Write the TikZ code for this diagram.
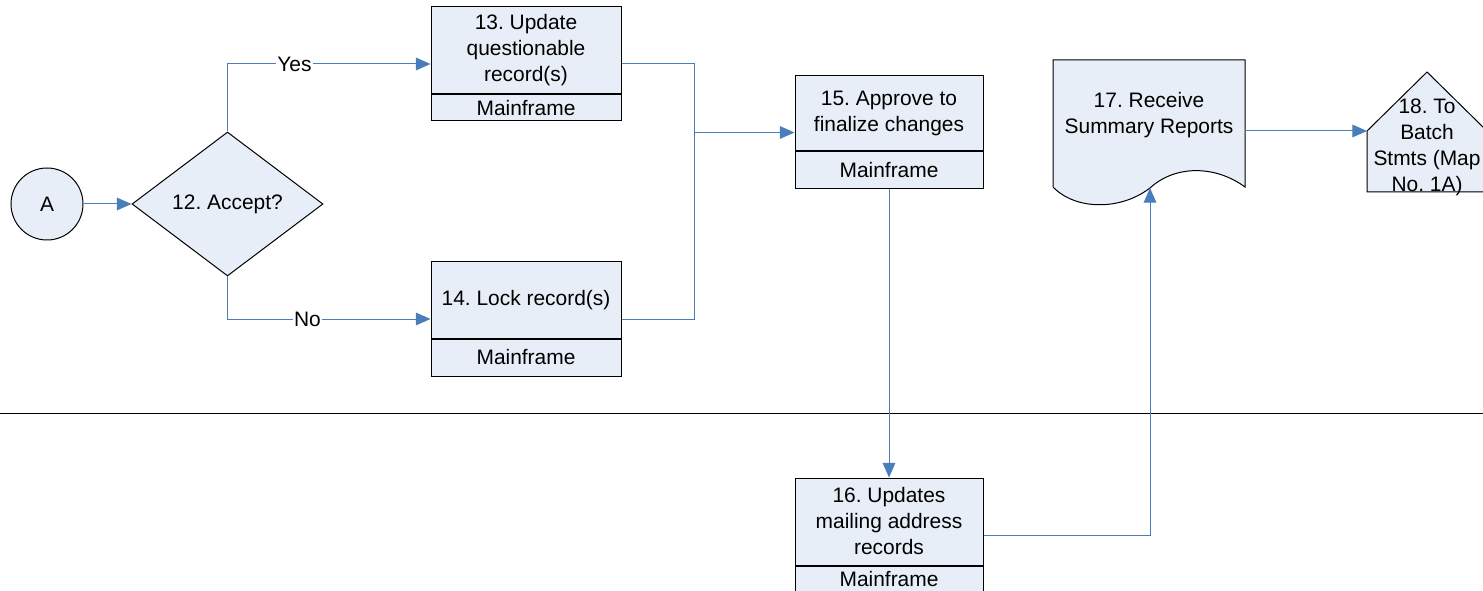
\documentclass[tikz,border=0pt]{standalone}
\usepackage{fontspec}
\setmainfont{Liberation Sans}
\usetikzlibrary{shapes.geometric,arrows.meta,calc}
\definecolor{boxfill}{RGB}{232,238,247}
\definecolor{flowblue}{RGB}{74,126,187}
\frenchspacing
\tikzset{
  shapeline/.style={draw=black,fill=boxfill,line width=0.75pt},
  proc/.style={shapeline,inner sep=0pt,align=center,minimum width=142.5pt},
  flow/.style={draw=flowblue,line width=0.75pt},
  arr/.style={flow,-{Triangle[length=11pt,width=9.5pt]}},
  lbl/.style={fill=white,inner sep=1pt},
}
\begin{document}
\begin{tikzpicture}[x=0.75pt,y=-0.75pt,font=\fontsize{15.7}{19.5}\selectfont]
\useasboundingbox (0,0) rectangle (1483,591);
\clip (0,0) rectangle (1483,591);
% connector and decision
\node[shapeline,circle,minimum size=54pt,inner sep=0pt] (conA) at (47,204) {A};
\node[shapeline,diamond,minimum width=143.25pt,minimum height=108pt,inner sep=0pt] (dec12) at (227.5,204) {12. Accept?};
% process boxes
\node[proc,minimum height=65.25pt] (b13) at (526,50.5) {13. Update\\questionable\\record(s)};
\node[proc,minimum height=19.5pt,anchor=north] (b13m) at (b13.south) {Mainframe};
\node[proc,minimum height=57pt] (b14) at (526,300) {14. Lock record(s)};
\node[proc,minimum height=27.75pt,anchor=north] (b14m) at (b14.south) {Mainframe};
\node[proc,minimum width=141pt,minimum height=56.25pt] (b15) at (889,113.5) {15. Approve to\\finalize changes};
\node[proc,minimum width=141pt,minimum height=27.75pt,anchor=north] (b15m) at (b15.south) {Mainframe};
\node[proc,minimum width=141pt,minimum height=65.25pt] (b16) at (889,521.5) {16. Updates\\mailing address\\records};
\node[proc,minimum width=141pt,minimum height=19.5pt,anchor=north] (b16m) at (b16.south) {Mainframe};
% document
\filldraw[shapeline] (1053,60) -- (1245,60) -- (1245,187)
  .. controls (1215,165) and (1175,165) .. (1150,188)
  .. controls (1120,211) and (1075,210) .. (1053,187) -- cycle;
\node[align=center,inner sep=0pt] (doc17) at (1149,115.5) {17. Receive\\Summary Reports};
\coordinate (doc17in) at (1150,188);
\coordinate (doc17out) at (1245,131);
% off-page connector
\filldraw[shapeline] (1367,131) -- (1427,72) -- (1487,131) -- (1487,192) -- (1367,192) -- cycle;
\node[align=center,inner sep=0pt] (op18) at (1427,147) {18. To\\Batch\\Stmts (Map\\No. 1A)};
\coordinate (op18in) at (1367,131);
% lane line
\draw[line width=0.75pt] (0,413) -- (1483,413);
% connection points
\coordinate (b13w) at ($(b13.north west)!.5!(b13m.south west)$);
\coordinate (b13e) at ($(b13.north east)!.5!(b13m.south east)$);
\coordinate (b14w) at ($(b14.north west)!.5!(b14m.south west)$);
\coordinate (b14e) at ($(b14.north east)!.5!(b14m.south east)$);
\coordinate (b15w) at ($(b15.north west)!.5!(b15m.south west)$);
\coordinate (b16e) at ($(b16.north east)!.5!(b16m.south east)$);
\coordinate (join) at ($(b15w)+(-100,0)$);
% flows
\draw[arr] (conA) -- (dec12);
\draw[arr] (dec12.north) |- node[lbl,pos=0.665] (yes) {Yes} (b13w);
\draw[arr] (dec12.south) |- node[lbl,pos=0.697] (no) {No} (b14w);
\draw[flow] (b13e) -| (join);
\draw[flow] (b14e) -| (join);
\draw[arr] (join) -- (b15w);
\draw[arr] (b15m.south) -- (b16.north);
\draw[arr] (b16e) -| (doc17in);
\draw[arr] (doc17out) -- (op18in);
\end{tikzpicture}
\end{document}
